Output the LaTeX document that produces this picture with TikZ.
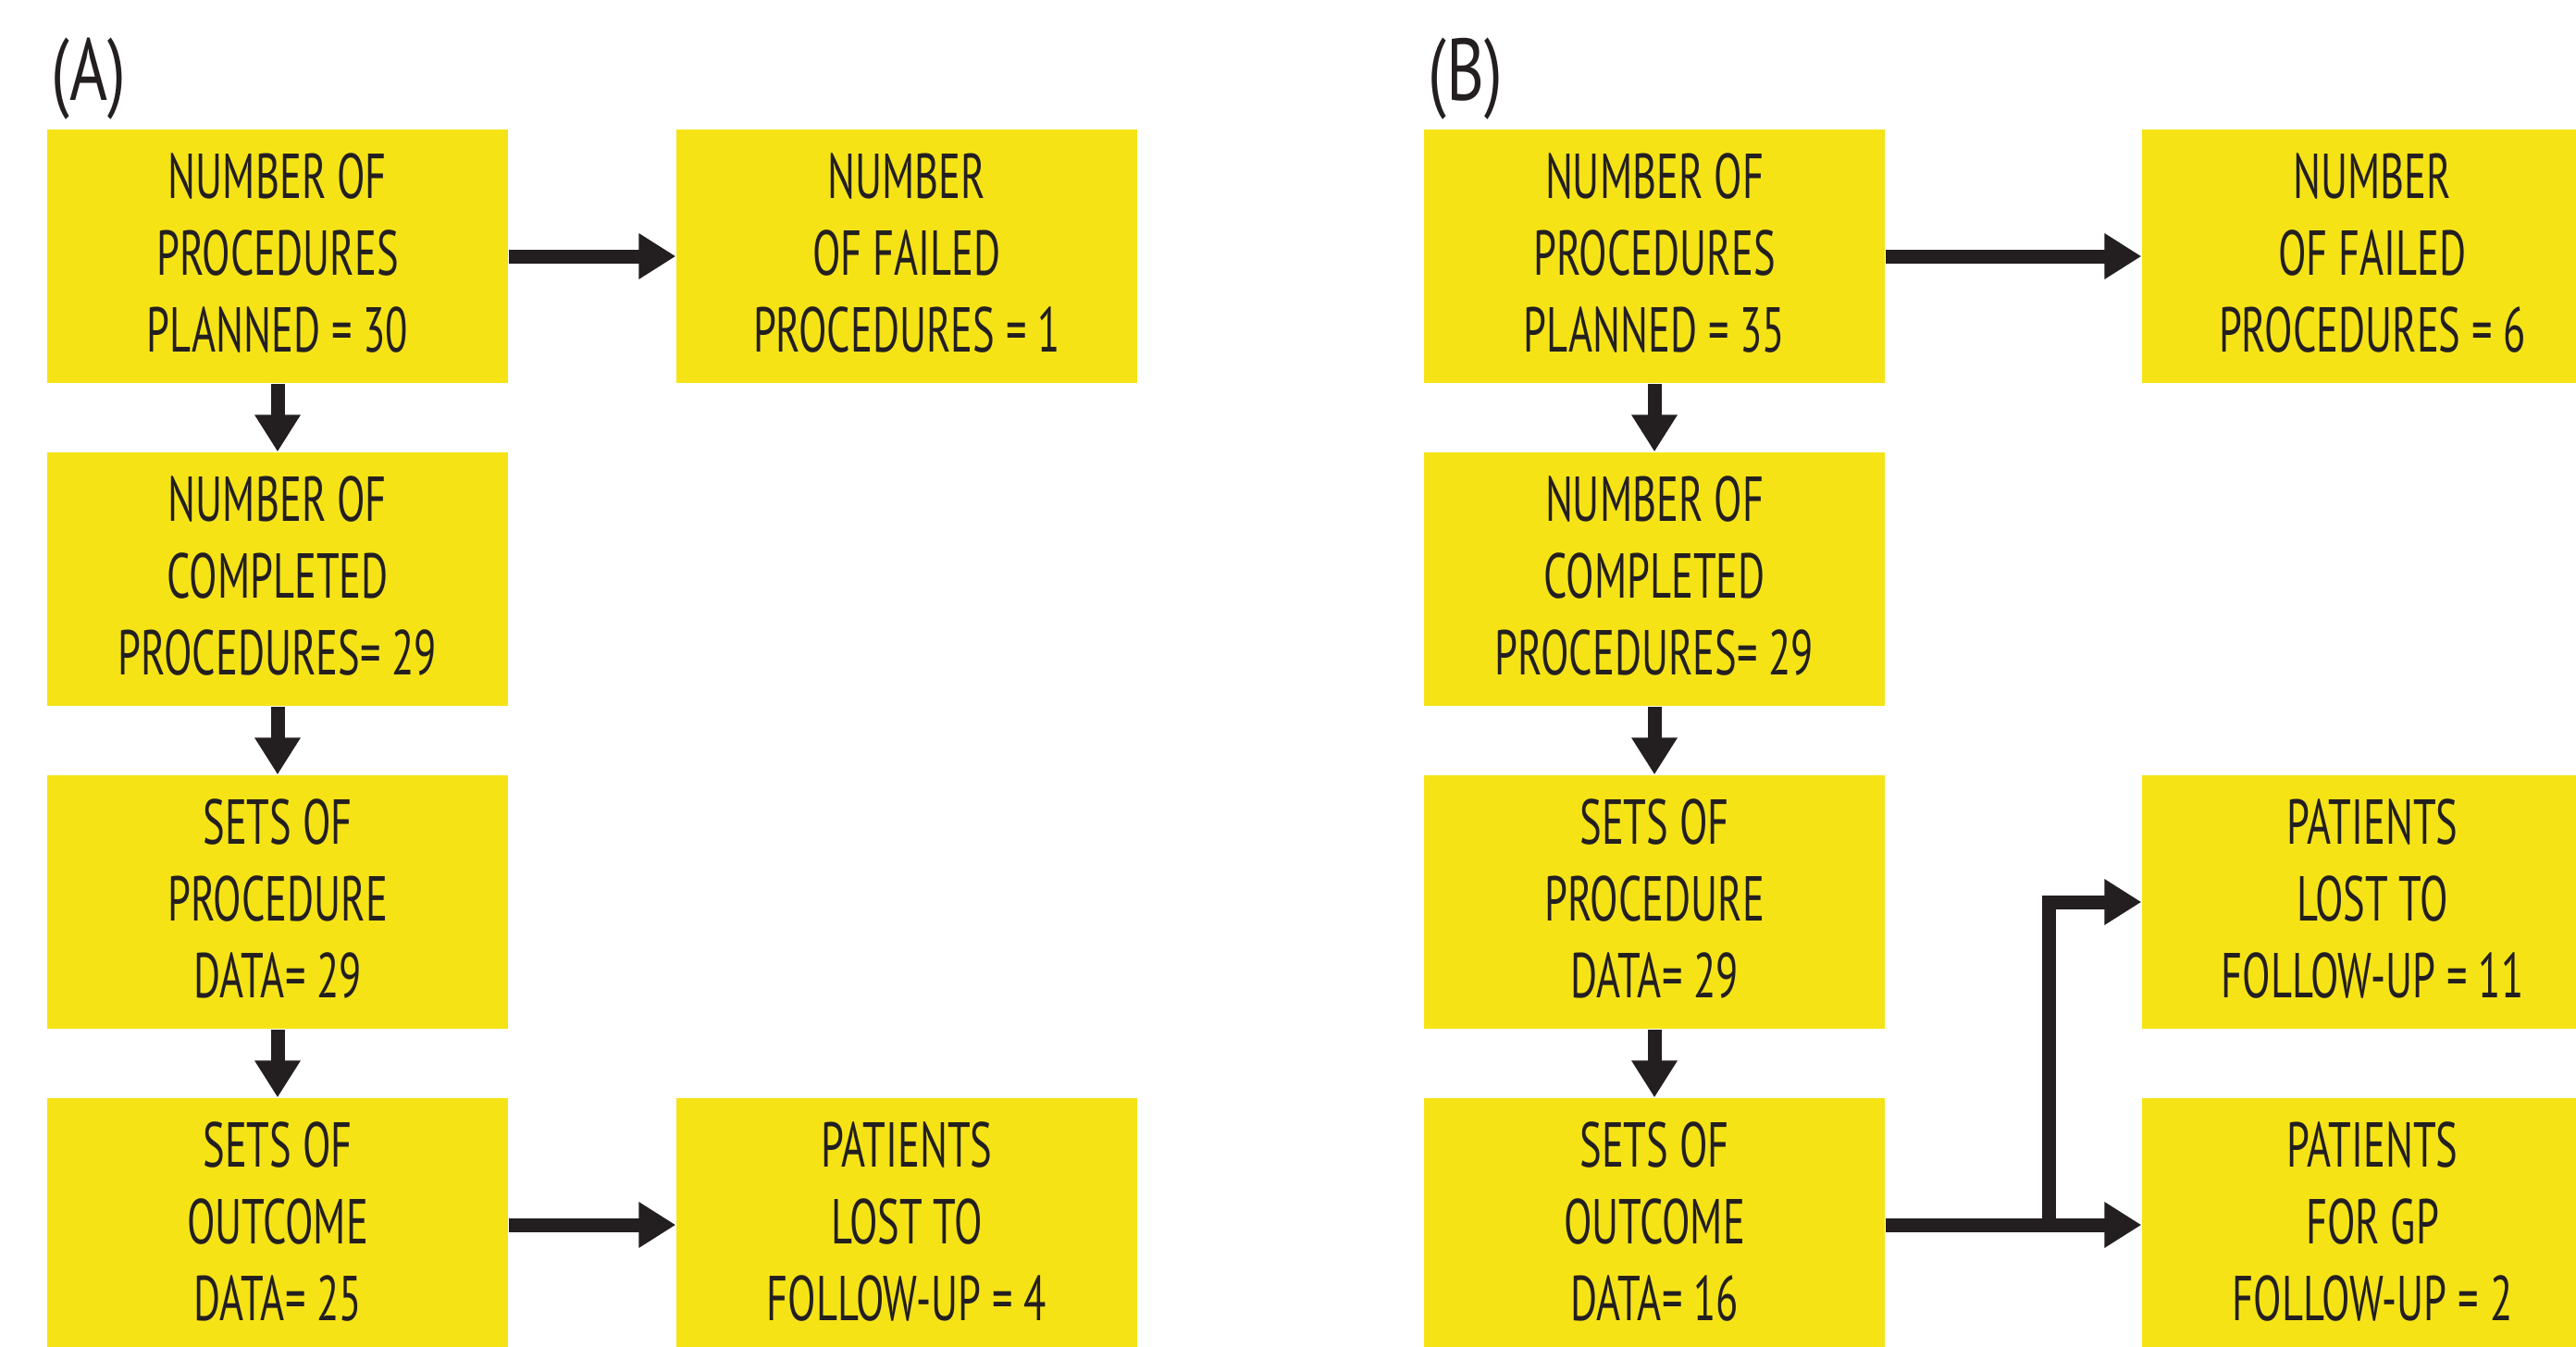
\documentclass[tikz,border=0pt]{standalone}
\usepackage{fontspec}
\setmainfont[FakeStretch=0.65]{PT Sans}
\newfontfamily\panelfont[FakeStretch=0.74]{PT Sans}
\usepackage{tikz}
\usetikzlibrary{arrows.meta, positioning}
\definecolor{boxyellow}{RGB}{246,227,22}
\definecolor{inkdark}{RGB}{35,31,32}

\begin{document}
\begin{tikzpicture}[
  box/.style={fill=boxyellow, minimum width=4.98cm, minimum height=2.74cm,
              inner sep=0pt, align=center, text=inkdark,
              font=\fontsize{19.5}{23.6}\selectfont,
              execute at end node={\rule[-0.7mm]{0pt}{0pt}}},
  arr/.style={-{Triangle[length=4mm, width=4.7mm]}, line width=1.5mm, draw=inkdark},
  panel/.style={font=\panelfont\fontsize{27}{30}\selectfont, text=inkdark,
                anchor=base west, inner sep=0pt}
]
\useasboundingbox (0,0) rectangle (27.84,-14.55);
\clip (0,0) rectangle (27.84,-14.55);

% --- panel (A) ---
\node[panel] (labA)   at (0.55,-1.09) {(A)};
\node[box]   (planA)  at (3.00,-2.77)  {NUMBER OF\\PROCEDURES\\PLANNED = 30};
\node[box]   (failA)  at (9.80,-2.77)  {NUMBER\\OF FAILED\\PROCEDURES = 1};
\node[box]   (compA)  at (3.00,-6.26)  {NUMBER OF\\COMPLETED\\PROCEDURES= 29};
\node[box]   (procA)  at (3.00,-9.75)  {SETS OF\\PROCEDURE\\DATA= 29};
\node[box]   (outA)   at (3.00,-13.24) {SETS OF\\OUTCOME\\DATA= 25};
\node[box]   (lostA)  at (9.80,-13.24) {PATIENTS\\LOST TO\\FOLLOW-UP = 4};

% --- panel (B) ---
\node[panel] (labB)   at (15.43,-1.09) {(B)};
\node[box]   (planB)  at (17.88,-2.77)  {NUMBER OF\\PROCEDURES\\PLANNED = 35};
\node[box]   (failB)  at (25.64,-2.77)  {NUMBER\\OF FAILED\\PROCEDURES = 6};
\node[box]   (compB)  at (17.88,-6.26)  {NUMBER OF\\COMPLETED\\PROCEDURES= 29};
\node[box]   (procB)  at (17.88,-9.75)  {SETS OF\\PROCEDURE\\DATA= 29};
\node[box]   (outB)   at (17.88,-13.24) {SETS OF\\OUTCOME\\DATA= 16};
\node[box]   (lostB)  at (25.64,-9.75)  {PATIENTS\\LOST TO\\FOLLOW-UP = 11};
\node[box]   (gpB)    at (25.64,-13.24) {PATIENTS\\FOR GP\\FOLLOW-UP = 2};
\coordinate (splitB) at (22.14,-13.24);

% --- arrows ---
\draw[arr] (planA) -- (failA);
\draw[arr] (planA) -- (compA);
\draw[arr] (compA) -- (procA);
\draw[arr] (procA) -- (outA);
\draw[arr] (outA) -- (lostA);
\draw[arr] (planB) -- (failB);
\draw[arr] (planB) -- (compB);
\draw[arr] (compB) -- (procB);
\draw[arr] (procB) -- (outB);
\draw[arr] (outB) -- (gpB);
\draw[arr] (splitB) |- (lostB.west);

\end{tikzpicture}
\end{document}
